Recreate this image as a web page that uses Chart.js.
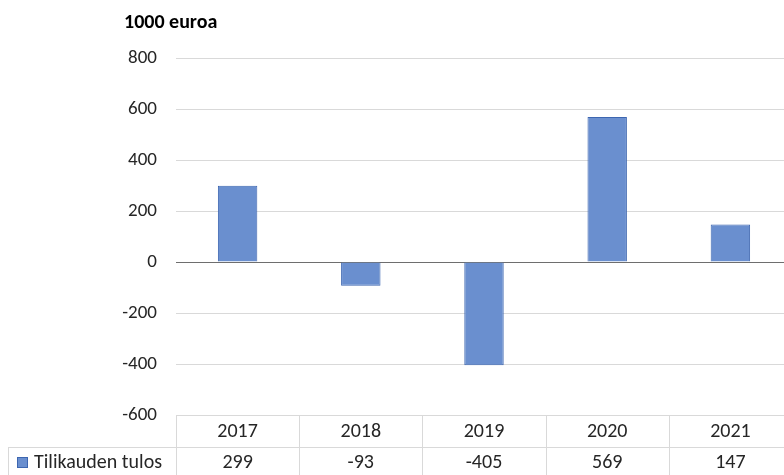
<!DOCTYPE html>
<html>
<head>
<meta charset="utf-8">
<script src="https://cdn.jsdelivr.net/npm/chart.js@4.4.1/dist/chart.umd.min.js"></script>
<style>
    html, body { margin: 0; padding: 0; background: #fff; overflow: hidden; }
    #wrap { position: absolute; left: 0; top: 0; width: 800px; height: 475px; }
</style>
</head>
<body>
<div id="wrap"><canvas id="tulosChart" width="800" height="475"></canvas></div>
<script>
// ===== DATA =====
const years = ["2017", "2018", "2019", "2020", "2021"];
const tulos = [299, -93, -405, 569, 147];
const seriesName = "Tilikauden tulos";
const unitLabel = "1000 euroa";
const yTicks = [800, 600, 400, 200, 0, -200, -400, -600];

const FONT = "Carlito, Lato, 'Liberation Sans', sans-serif";
const BAR_FILL = "#6a8fcf";
const BAR_BORDER = "#3d66b0";
const TABLE_LINE = "#d9d9d9";

// Draws the unit title and the data table under the plot
const dataTablePlugin = {
    id: "dataTable",
    afterDraw(chart) {
        const ctx = chart.ctx;
        const xScale = chart.scales.x;
        const area = chart.chartArea;
        const rowH = 32;
        const top = area.bottom;
        const mid = top + rowH;
        const bottom = chart.height;
        const leftEdge = 8;

        ctx.save();

        // unit title
        ctx.fillStyle = "#000";
        ctx.font = "bold 20px " + FONT;
        ctx.textAlign = "left";
        ctx.textBaseline = "middle";
        ctx.fillText(unitLabel, 124, 23);

        // grid lines of the table
        ctx.strokeStyle = TABLE_LINE;
        ctx.lineWidth = 1;
        ctx.beginPath();
        ctx.moveTo(area.left, top + 0.5);
        ctx.lineTo(area.right, top + 0.5);
        ctx.moveTo(leftEdge, mid + 0.5);
        ctx.lineTo(area.right, mid + 0.5);
        ctx.moveTo(leftEdge + 0.5, mid);
        ctx.lineTo(leftEdge + 0.5, bottom);
        const colW = (area.right - area.left) / years.length;
        for (let i = 0; i <= years.length; i++) {
            const x = Math.round(area.left + i * colW) + 0.5;
            ctx.moveTo(x, top);
            ctx.lineTo(x, bottom);
        }
        ctx.stroke();

        // years and values
        ctx.fillStyle = "#262626";
        ctx.font = "20px " + FONT;
        ctx.textAlign = "center";
        years.forEach((yr, i) => {
            const x = xScale.getPixelForValue(i);
            ctx.fillText(yr, x, top + rowH / 2 + 1);
            ctx.fillText(String(tulos[i]), x, mid + (bottom - mid) / 2 + 2);
        });

        // legend key + series name
        ctx.fillStyle = BAR_FILL;
        ctx.fillRect(17, 457, 11, 11);
        ctx.strokeStyle = BAR_BORDER;
        ctx.strokeRect(17.5, 457.5, 10, 10);
        ctx.fillStyle = "#262626";
        ctx.textAlign = "left";
        ctx.fillText(seriesName, 34, mid + (bottom - mid) / 2 + 2);

        ctx.restore();
    },
};

new Chart(document.getElementById("tulosChart"), {
    type: "bar",
    data: {
        labels: years,
        datasets: [
            {
                label: seriesName,
                data: tulos,
                backgroundColor: BAR_FILL,
                borderColor: BAR_BORDER,
                borderWidth: 1,
                categoryPercentage: 1,
                barPercentage: 0.32,
            },
        ],
    },
    options: {
        responsive: false,
        animation: false,
        layout: { padding: { top: 58, right: 8, bottom: 60, left: 0 } },
        plugins: {
            legend: { display: false },
            tooltip: { enabled: false },
        },
        scales: {
            x: { display: false },
            y: {
                min: -600,
                max: 800,
                afterBuildTicks(scale) {
                    scale.ticks = yTicks.map((v) => ({ value: v }));
                },
                afterFit(scale) {
                    scale.width = 176;
                },
                border: { display: false },
                grid: {
                    drawTicks: false,
                    color: (c) => (c.tick && c.tick.value === 0 ? "#6e6e6e" : c.tick && c.tick.value === -600 ? "rgba(0,0,0,0)" : "#d9d9d9"),
                },
                ticks: {
                    padding: 19,
                    color: "#262626",
                    font: { family: FONT, size: 19 },
                },
            },
        },
    },
    plugins: [dataTablePlugin],
});
</script>
</body>
</html>
